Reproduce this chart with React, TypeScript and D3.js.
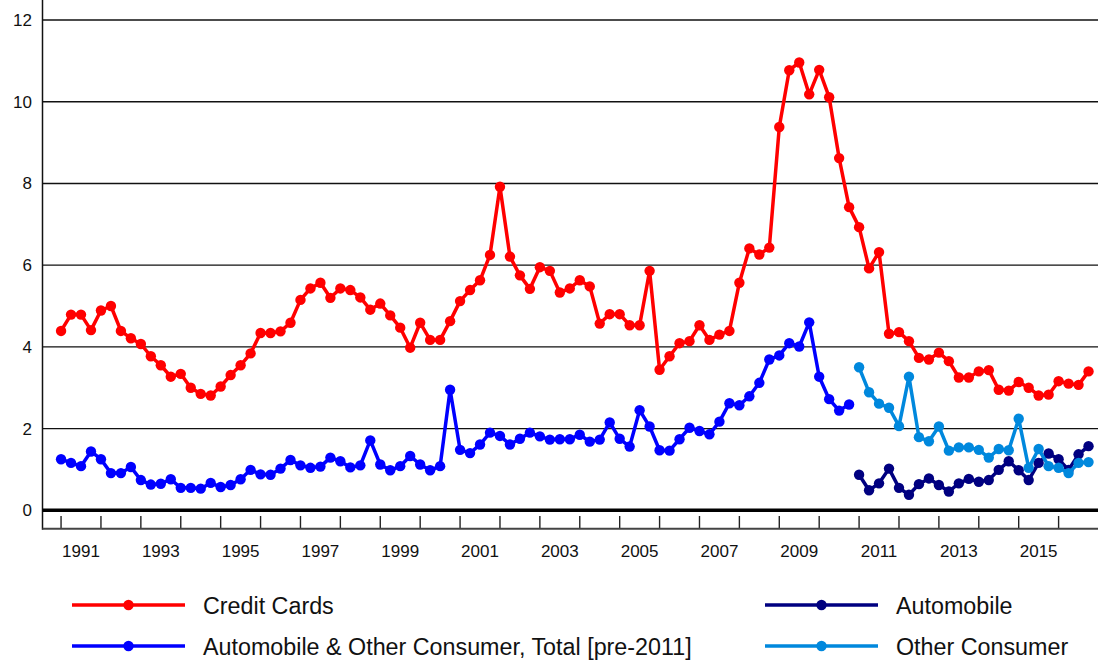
import React from 'react';
import * as d3 from 'd3';

// Quarterly series, first value = 1991 Q1
const creditCards = [
  4.39, 4.79, 4.79, 4.41, 4.89, 5.0, 4.39, 4.21, 4.07, 3.77,
  3.55, 3.27, 3.34, 3.0, 2.85, 2.81, 3.03, 3.31, 3.55, 3.84,
  4.34, 4.34, 4.38, 4.59, 5.15, 5.43, 5.57, 5.2, 5.43, 5.39,
  5.21, 4.91, 5.06, 4.77, 4.47, 3.98, 4.59, 4.17, 4.17, 4.63,
  5.12, 5.39, 5.63, 6.25, 7.92, 6.21, 5.75, 5.42, 5.95, 5.86,
  5.33, 5.43, 5.63, 5.48, 4.57, 4.8, 4.8, 4.53, 4.53, 5.86,
  3.44, 3.77, 4.09, 4.14, 4.53, 4.17, 4.3, 4.39, 5.57, 6.41,
  6.26, 6.43, 9.38, 10.77, 10.96, 10.18, 10.78, 10.11, 8.62, 7.42,
  6.93, 5.92, 6.32, 4.32, 4.36, 4.14, 3.73, 3.69, 3.86, 3.65,
  3.25, 3.25, 3.4, 3.43, 2.95, 2.93, 3.14, 3.0, 2.81, 2.83,
  3.16, 3.1, 3.07, 3.4,
];

// 1991 Q1 – 2010 Q4
const autoOtherTotal = [
  1.25, 1.16, 1.08, 1.44, 1.25, 0.91, 0.91, 1.06, 0.74, 0.63,
  0.65, 0.76, 0.55, 0.55, 0.53, 0.67, 0.57, 0.62, 0.76, 0.99,
  0.88, 0.87, 1.02, 1.23, 1.1, 1.04, 1.07, 1.29, 1.2, 1.05,
  1.1, 1.71, 1.12, 0.98, 1.08, 1.33, 1.12, 0.98, 1.08, 2.95,
  1.48, 1.4, 1.61, 1.9, 1.82, 1.61, 1.75, 1.9, 1.81, 1.73,
  1.74, 1.74, 1.85, 1.68, 1.73, 2.15, 1.75, 1.56, 2.45, 2.05,
  1.47, 1.46, 1.74, 2.02, 1.94, 1.86, 2.17, 2.62, 2.57, 2.79,
  3.12, 3.69, 3.79, 4.09, 4.01, 4.6, 3.27, 2.72, 2.44, 2.59,
];

// 2011 Q1 – 2016 Q4
const automobile = [
  0.87, 0.49, 0.66, 1.02, 0.55, 0.38, 0.64, 0.78, 0.62, 0.46,
  0.66, 0.77, 0.7, 0.74, 0.99, 1.2, 0.98, 0.74, 1.16, 1.39,
  1.25, 0.99, 1.37, 1.57,
];
const otherConsumer = [
  3.5, 2.89, 2.61, 2.51, 2.06, 3.27, 1.79, 1.69, 2.05, 1.46,
  1.54, 1.54, 1.48, 1.29, 1.5, 1.47, 2.24, 1.04, 1.5, 1.08,
  1.04, 0.91, 1.16, 1.18,
];

const yTicks = [0, 2, 4, 6, 8, 10, 12];
const tickYears = d3.range(1991, 2017);
const labelYears = [1991, 1993, 1995, 1997, 1999, 2001, 2003, 2005, 2007, 2009, 2011, 2013, 2015];

const series = [
  { name: 'Credit Cards', values: creditCards, start: 1991, color: '#ff0000' },
  { name: 'Automobile & Other Consumer, Total [pre-2011]', values: autoOtherTotal, start: 1991, color: '#0000ff' },
  { name: 'Automobile', values: automobile, start: 2011, color: '#000080' },
  { name: 'Other Consumer', values: otherConsumer, start: 2011, color: '#0088dd' },
];

const legendLayout = [
  { idx: 0, x: 72, y: 605 },
  { idx: 1, x: 72, y: 646 },
  { idx: 2, x: 765, y: 605 },
  { idx: 3, x: 765, y: 646 },
];

const FONT = '"Liberation Sans", Arial, Helvetica, sans-serif';

export default function App() {
  const W = 1098;
  const H = 661;
  const left = 42.5;
  const right = 1098;
  const bottom = 528.7;
  const x = d3.scaleLinear().domain([1990.535, 2017]).range([left, 1098.5]);
  const y = d3.scaleLinear().domain([0, 12]).range([510.3, 20]);

  const line = d3
    .line<{ t: number; v: number }>()
    .x((d) => x(d.t))
    .y((d) => y(d.v));

  const drawOrder = [0, 1, 2, 3];

  return (
    <svg
      width={W}
      height={H}
      style={{ position: 'absolute', left: 0, top: 0, background: '#fff' }}
      fontFamily={FONT}
    >
      <rect x={0} y={0} width={W} height={H} fill="#fff" />
      {/* grid lines */}
      {yTicks
        .filter((t) => t !== 0)
        .map((t) => (
          <line key={'g' + t} x1={left} x2={right} y1={y(t)} y2={y(t)} stroke="#111" strokeWidth={1.4} />
        ))}
      {/* y labels */}
      {yTicks.map((t) => (
        <text key={'yl' + t} x={32} y={y(t)} dy="0.35em" textAnchor="end" fontSize={17} fill="#111">
          {t}
        </text>
      ))}
      {/* x ticks */}
      {tickYears.map((yr) => (
        <line key={'xt' + yr} x1={x(yr)} x2={x(yr)} y1={516} y2={bottom} stroke="#222" strokeWidth={1.4} />
      ))}
      {labelYears.map((yr) => (
        <text key={'xl' + yr} x={x(yr + 0.5)} y={557} textAnchor="middle" fontSize={17} fill="#111">
          {yr}
        </text>
      ))}
      {/* axes */}
      <line x1={left} x2={left} y1={0} y2={bottom + 1} stroke="#111" strokeWidth={1.5} />
      <line x1={left} x2={right} y1={bottom} y2={bottom} stroke="#444" strokeWidth={2} />
      <line x1={left} x2={right} y1={y(0)} y2={y(0)} stroke="#000" strokeWidth={3.5} />

      {/* series */}
      {drawOrder.map((si) => {
        const s = series[si];
        const pts = s.values.map((v, i) => ({ t: s.start + i / 4, v }));
        return (
          <g key={s.name}>
            <path d={line(pts) || ''} fill="none" stroke={s.color} strokeWidth={3.5} strokeLinejoin="round" />
            {pts.map((p, i) => (
              <circle key={i} cx={x(p.t)} cy={y(p.v)} r={5.2} fill={s.color} />
            ))}
          </g>
        );
      })}

      {/* legend */}
      {legendLayout.map((l) => {
        const s = series[l.idx];
        return (
          <g key={'lg' + l.idx}>
            <line x1={l.x} x2={l.x + 113} y1={l.y} y2={l.y} stroke={s.color} strokeWidth={3.5} />
            <circle cx={l.x + 56.5} cy={l.y} r={5.2} fill={s.color} />
            <text x={l.x + 131} y={l.y + 8.5} fontSize={23.3} fill="#111">
              {s.name}
            </text>
          </g>
        );
      })}
    </svg>
  );
}
